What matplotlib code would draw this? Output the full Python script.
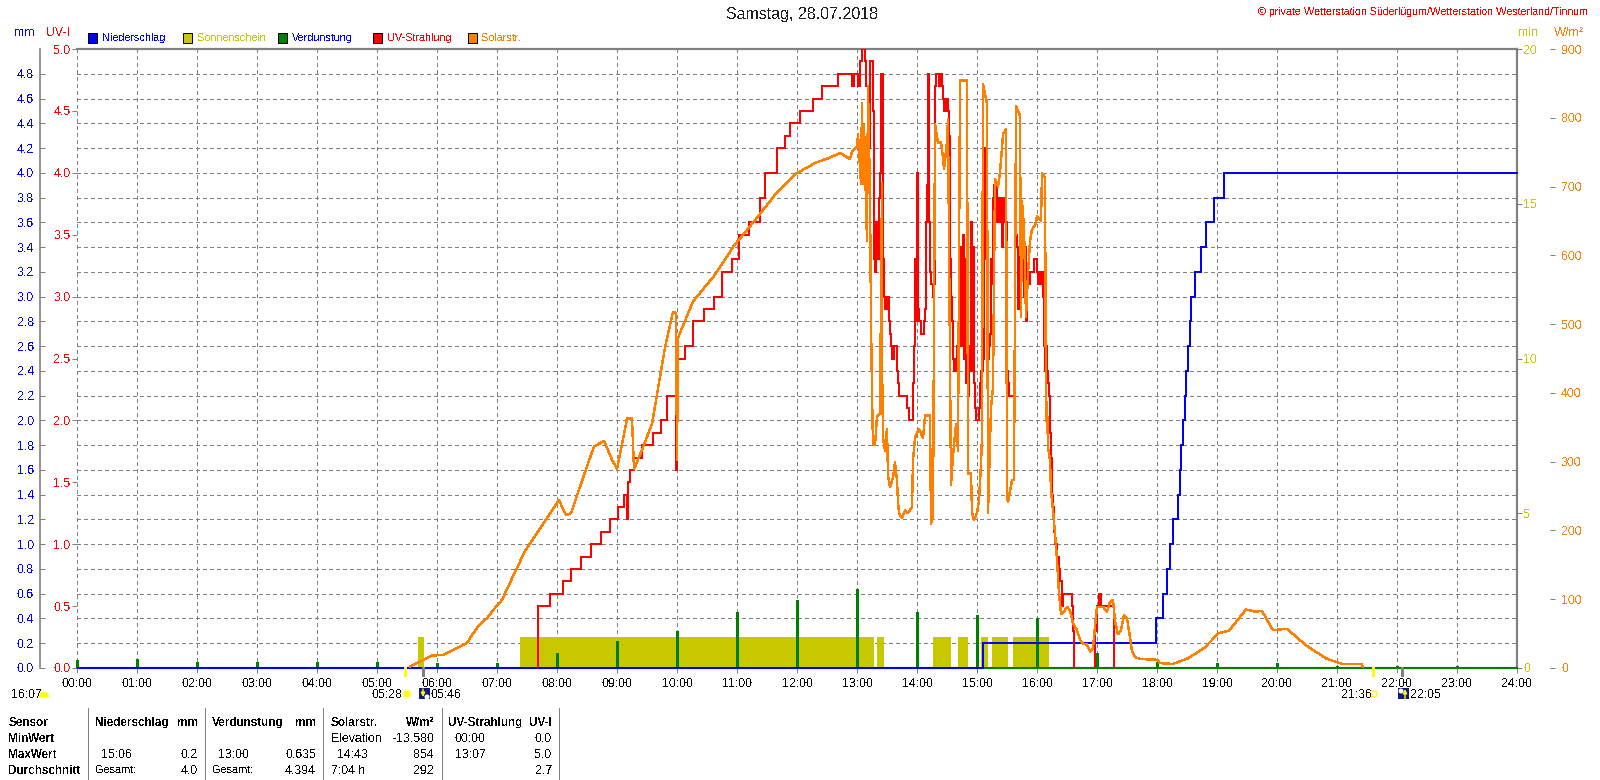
import matplotlib
matplotlib.use('Agg')
import matplotlib.pyplot as plt
from matplotlib.patches import Circle, Rectangle, Wedge

plt.rcParams['font.family'] = ['Liberation Sans', 'DejaVu Sans']
plt.rcParams['font.size'] = 8.8
plt.rcParams['text.antialiased'] = False
plt.rcParams['text.hinting'] = 'native'

GRAY = '#808080'
BLUE = '#0000FF'
RED = '#FF0000'
GREEN = '#008000'
YELLOW = '#C8C800'
ORANGE = '#FF8000'

# Niederschlag, cumulated mm (minutes of the day)
rain_t = [0, 906, 1079, 1086, 1090, 1093, 1096, 1101, 1103, 1104, 1106, 1108, 1109, 1111,
          1113, 1114, 1118, 1124, 1129, 1137, 1147, 1440]
rain_v = [0.0, 0.2, 0.4, 0.6, 0.8, 1.0, 1.2, 1.4, 1.6, 1.8, 2.0, 2.2, 2.4, 2.6,
          2.8, 3.0, 3.2, 3.4, 3.6, 3.8, 4.0, 4.0]

# Verdunstung, one bar per hour
evap_t = [0, 60, 120, 180, 240, 300, 360, 420, 480, 540, 600, 660, 720, 780, 840, 900, 960,
          1020, 1080, 1140, 1200, 1260, 1320, 1380]
evap_v = [0.065, 0.07, 0.05, 0.05, 0.05, 0.05, 0.04, 0.04, 0.125, 0.22, 0.30, 0.45, 0.55, 0.635,
          0.45, 0.43, 0.40, 0.12, 0.05, 0.04, 0.04, 0.02, 0.02, 0.02]

# Sonnenschein blocks
sun_start = [341, 443, 800, 856, 881, 904, 915, 936]
sun_end = [347, 797, 807, 874, 891, 911, 931, 972]
sun_min = [1.0, 1.0, 1.0, 1.0, 1.0, 1.0, 1.0, 1.0]

# UV-Strahlung
uv_t = [461, 461, 473, 486, 494, 504, 514, 524, 533, 541, 547, 550, 551, 553, 557, 565, 576, 584,
        590, 598, 599, 600, 601, 608, 616, 627, 637, 645, 655, 662, 672, 683, 688, 700, 708, 713,
        723, 736, 745, 761, 775, 777, 781, 783, 785, 788, 789, 791, 793, 796, 797, 798, 799, 801,
        802, 803, 804, 806, 807, 808, 810, 812, 813, 814, 815, 817, 820, 821, 822, 830, 832, 836,
        837, 838, 839, 840, 841, 842, 844, 847, 848, 849, 850, 851, 852, 853, 854, 856, 857, 858,
        859, 862, 864, 865, 866, 867, 869, 871, 872, 873, 874, 875, 876, 877, 879, 880, 884, 885,
        886, 887, 888, 889, 890, 891, 892, 893, 894, 895, 896, 897, 898, 899, 902, 903, 904, 906,
        907, 908, 909, 910, 911, 912, 913, 914, 915, 916, 917, 919, 920, 921, 922, 923, 925, 926,
        927, 929, 930, 931, 932, 938, 940, 941, 942, 943, 944, 946, 947, 948, 949, 950, 953, 957,
        960, 961, 962, 964, 965, 966, 967, 968, 969, 970, 971, 972, 973, 974, 975, 976, 977, 978,
        980, 982, 983, 985, 986, 995, 996, 997]
uv_v = [0.0, 0.5, 0.6, 0.7, 0.8, 0.9, 1.0, 1.1, 1.2, 1.3, 1.4, 1.2, 1.5, 1.6, 1.7, 1.8, 1.9, 2.0,
        2.2, 2.2, 1.6, 2.4, 2.5, 2.6, 2.8, 2.9, 3.0, 3.2, 3.3, 3.5, 3.6, 3.8, 4.0, 4.2, 4.3, 4.4,
        4.5, 4.6, 4.7, 4.8, 4.7, 4.8, 4.7, 4.9, 5.0, 4.9, 4.7, 4.2, 4.9, 4.5, 3.3, 3.2, 3.6, 3.3,
        3.8, 4.0, 4.8, 3.3, 3.0, 2.9, 3.0, 2.8, 2.7, 2.6, 2.5, 2.6, 2.4, 2.3, 2.2, 2.1, 2.0, 2.3,
        2.6, 3.3, 2.8, 4.0, 2.9, 2.8, 2.7, 2.8, 2.9, 3.6, 3.9, 4.8, 3.6, 3.2, 3.1, 3.0, 3.1, 4.7,
        4.8, 4.7, 4.8, 4.7, 4.6, 4.5, 4.6, 4.5, 4.3, 3.3, 3.0, 2.8, 2.5, 2.4, 2.5, 2.6, 3.4, 2.6,
        3.5, 2.5, 3.3, 2.3, 3.2, 2.2, 2.6, 2.4, 3.6, 2.4, 3.4, 2.3, 2.1, 2.0, 2.1, 2.3, 2.4, 2.5,
        3.3, 4.2, 4.1, 3.1, 2.5, 2.6, 2.7, 3.3, 3.1, 3.8, 3.9, 3.9, 3.6, 3.8, 3.6, 3.8, 3.4, 3.8,
        3.6, 3.6, 2.4, 2.3, 2.2, 3.5, 3.4, 2.9, 3.4, 2.9, 3.5, 3.5, 3.0, 3.4, 2.8, 3.1, 3.2, 3.3,
        3.2, 3.1, 3.2, 3.1, 3.2, 3.0, 2.6, 2.4, 2.6, 2.4, 2.3, 2.2, 1.9, 1.7, 1.4, 1.3, 1.1, 1.0,
        0.9, 0.8, 0.7, 0.5, 0.6, 0.5, 0.3, 0.0]
uv2_t = [1018, 1018, 1020, 1022, 1024, 1037, 1037]
uv2_v = [0.0, 0.3, 0.5, 0.6, 0.5, 0.5, 0.0]

# Solarstrahlung
sol_t = [333, 341, 348, 355, 366, 373, 381, 390, 395, 401, 411, 416, 425, 431, 448, 468, 482, 489,
         494, 509, 517, 527, 535, 540, 547, 550, 555, 557, 565, 575, 581, 588, 596, 599, 600, 601,
         616, 637, 657, 678, 698, 718, 739, 753, 763, 773, 775, 780, 781, 784, 785, 786, 787, 790,
         791, 793, 794, 795, 796, 798, 800, 803, 805, 805, 806, 808, 810, 811, 813, 816, 818, 820,
         821, 822, 825, 828, 831, 835, 836, 838, 842, 846, 848, 853, 854, 856, 858, 861, 864, 866,
         867, 870, 871, 874, 876, 879, 881, 883, 890, 891, 894, 895, 897, 900, 902, 904, 905, 906,
         910, 911, 914, 916, 918, 921, 923, 926, 929, 930, 931, 935, 937, 939, 943, 944, 945, 947,
         949, 951, 953, 955, 958, 960, 964, 965, 968, 969, 970, 971, 973, 974, 976, 978, 980, 982,
         984, 986, 990, 993, 996, 1000, 1003, 1006, 1010, 1013, 1016, 1018, 1020, 1026, 1030, 1033,
         1036, 1038, 1041, 1044, 1047, 1050, 1053, 1055, 1058, 1063, 1080, 1083, 1096, 1111, 1127,
         1142, 1152, 1169, 1178, 1185, 1196, 1210, 1229, 1249, 1265, 1285, 1286]
sol_v = [2, 8, 13, 18, 19, 24, 30, 36, 48, 60, 74, 84, 99, 118, 170, 214, 244, 222,
         225, 289, 322, 330, 303, 289, 340, 363, 363, 289, 317, 355, 406, 466, 518, 516, 303, 480,
         533, 570, 614, 651, 688, 718, 735, 742, 749, 740, 751, 758, 776, 704, 822, 704, 790,
         621, 846, 686, 505, 399, 324, 324, 365, 370, 705, 447, 335, 316, 348, 280, 263, 277, 299, 273,
         241, 225, 218, 229, 225, 234, 302, 335, 348, 334, 367, 367, 210, 219, 791, 763, 765, 742,
         725, 766, 798, 266, 309, 355, 316, 854, 854, 283, 283, 226, 215, 225, 244, 297, 338, 849,
         820, 225, 379, 408, 711, 700, 720, 776, 784, 251, 241, 273, 273, 817, 803, 510, 679, 640,
         510, 573, 621, 638, 643, 657, 650, 720, 713, 360, 386, 321, 302, 258, 229, 196, 157, 108,
         79, 80, 89, 84, 65, 55, 41, 35, 34, 24, 29, 60, 89, 89, 82, 96,
         99, 68, 49, 55, 77, 72, 45, 24, 16, 13, 12, 7, 6, 14, 29,
         51, 54, 85, 82, 83, 55, 57, 33, 14, 6, 6, 0]

hour_ticks = list(range(0, 1441, 60))
hour_labels = ['%02d:00' % h for h in range(25)]
mm_ticks = [i / 5 for i in range(25)]
uv_ticks = [i / 2 for i in range(11)]
min_ticks = [0, 5, 10, 15, 20]
wm_ticks = list(range(0, 901, 100))

legend_names = ['Niederschlag', 'Sonnenschein', 'Verdunstung', 'UV-Strahlung', 'Solarstr.']
legend_text_col = [BLUE, YELLOW, BLUE, RED, ORANGE]
legend_box_col = [BLUE, YELLOW, GREEN, RED, ORANGE]

W, H = 1600, 780
fig = plt.figure(figsize=(16, 7.8), dpi=100)
rect = [77 / W, (H - 668) / H, 1440 / W, 619 / H]

# base axes holds the grid and the mm scale
ax = fig.add_axes(rect, zorder=1)
ax_sun = fig.add_axes(rect, zorder=2, frameon=False)
ax_rain = fig.add_axes(rect, zorder=3, frameon=False)
ax_uv = fig.add_axes(rect, zorder=4, frameon=False)
ax_sol = fig.add_axes(rect, zorder=5, frameon=False)

for a in [ax, ax_sun, ax_rain, ax_uv, ax_sol]:
    a.set_xlim(0, 1440)
    a.set_xticks([])
    for s in a.spines.values():
        s.set_visible(False)
    a.set_yticks([])

ax.set_ylim(0, 5)
ax_rain.set_ylim(0, 5)
ax_uv.set_ylim(0, 5)
ax_sun.set_ylim(0, 20)
ax_sol.set_ylim(0, 900)

# frame and grid
for side in ['left', 'right', 'top', 'bottom']:
    ax.spines[side].set_visible(True)
    ax.spines[side].set_color(GRAY)
    ax.spines[side].set_linewidth(1.6)
ax.set_xticks(hour_ticks)
ax.set_xticklabels(hour_labels, color='black')
ax.tick_params(axis='x', length=3.6, width=0.72, color=GRAY, pad=3.4)
ax.grid(True, color=GRAY, linestyle=(0, (3.2, 3.2)), linewidth=0.72, antialiased=False)
ax.set_axisbelow(True)

# mm scale, own spine left of the frame
ax_sun.spines['left'].set_visible(True)
ax_sun.spines['left'].set_color(GRAY)
ax_sun.spines['left'].set_linewidth(1.6)
ax.set_yticks(mm_ticks)
ax.spines['left'].set_position(('outward', 26.6))
ax.spines['left'].set_linewidth(1.2)
ax.tick_params(axis='y', direction='in', length=3.6, width=0.72, color=GRAY,
               labelcolor=BLUE, pad=4.3)
ax.set_yticklabels(['%.1f' % v for v in mm_ticks])

# UV scale on the frame
ax_uv.set_yticks(uv_ticks)
ax_uv.set_yticklabels(['%.1f' % v for v in uv_ticks])
ax_uv.tick_params(axis='y', direction='out', length=3.6, width=0.72, color=GRAY,
                  labelcolor=RED, pad=1)

# min scale on the frame, W/m2 on its own spine
ax_sun.yaxis.tick_right()
ax_sun.set_yticks(min_ticks)
ax_sun.tick_params(axis='y', direction='out', length=3.6, width=0.72, color=GRAY,
                   labelcolor=YELLOW, pad=1)
ax_sol.yaxis.tick_right()
ax_sol.set_yticks(wm_ticks)
ax_sol.spines['right'].set_visible(True)
ax_sol.spines['right'].set_position(('outward', 27.4))
ax_sol.spines['right'].set_color(GRAY)
ax_sol.spines['right'].set_linewidth(1.2)
ax_sol.tick_params(axis='y', direction='in', length=3.6, width=0.72, color=GRAY,
                   labelcolor=ORANGE, pad=4.3)

# marks
ax_sun.bar(sun_start, sun_min, width=[e - s for s, e in zip(sun_start, sun_end)], align='edge',
           color=YELLOW, linewidth=0, antialiased=False)
ax_rain.axhline(0, color=GREEN, linewidth=1.44, clip_on=False, antialiased=False)
ax_rain.plot(rain_t, rain_v, color=BLUE, linewidth=1.44, drawstyle='steps-post',
             clip_on=False, antialiased=False)
ax_rain.bar(evap_t, evap_v, width=3, color=GREEN, linewidth=0, clip_on=False, antialiased=False)
ax_uv.plot(uv_t, uv_v, color=RED, linewidth=1.44, drawstyle='steps-post', antialiased=False)
ax_uv.plot(uv2_t, uv2_v, color=RED, linewidth=1.44, drawstyle='steps-post', antialiased=False)
ax_sol.plot(sol_t, sol_v, color=ORANGE, linewidth=1.0, antialiased=False)

# overlay in pixel coordinates for the texts around the chart
ov = fig.add_axes([0, 0, 1, 1], zorder=10, frameon=False)
ov.set_xlim(0, W)
ov.set_ylim(H, 0)
ov.axis('off')


def txt(x, y, s, color='black', ha='left', **kw):
    ov.text(x, y, s, color=color, ha=ha, va='center', **kw)


txt(802, 15, 'Samstag, 28.07.2018', ha='center', fontsize=11.5, color='#202020')
txt(1588, 12, '© private Wetterstation Süderlügum/Wetterstation Westerland/Tinnum', color=RED, ha='right', fontsize=7.7)
txt(14, 33, 'mm', BLUE)
txt(46, 33, 'UV-I', RED)
txt(1518, 33, 'min', YELLOW)
txt(1554, 33, 'W/m²', ORANGE)

box_x = [88, 183, 278, 373, 468]
for name, tc, bc, bx in zip(legend_names, legend_text_col, legend_box_col, box_x):
    ov.add_patch(Rectangle((bx, 33), 9, 10, facecolor=bc, edgecolor='black', linewidth=0.7))
    txt(bx + 14, 38, name, tc, fontsize=7.8)

# sunrise / moonrise markers below the axis
for mx, c in [(77 + 328, '#FFFF00'), (77 + 1296, '#FFFF00'), (77 + 346, GRAY), (77 + 1325, GRAY)]:
    ov.add_patch(Rectangle((mx - 1, 667), 2.5, 10, facecolor=c, edgecolor='none'))

txt(11, 694, '16:07')
ov.add_patch(Wedge((44, 697), 4.5, 180, 360, facecolor='#FFFF00', edgecolor='#FFFF00'))
txt(372, 694, '05:28')
ov.add_patch(Circle((407, 694), 4, facecolor='#FFFF00', edgecolor='#FFFFA0', linewidth=1.2))
ov.add_patch(Rectangle((419, 688), 11, 11, facecolor='#101880', edgecolor='none'))
ov.add_patch(Circle((427, 697), 2.5, facecolor='white', edgecolor='none'))
ov.annotate('', xy=(423, 697), xytext=(423, 689), arrowprops=dict(arrowstyle='-|>', color='#FFFF00', lw=1, mutation_scale=6, shrinkA=0, shrinkB=0))
txt(431, 694, '05:46')
txt(1341, 694, '21:36')
ov.add_patch(Rectangle((1371, 691), 5, 5, facecolor='white', edgecolor='#FFFF00', linewidth=1))
ov.add_patch(Rectangle((1398, 688), 11, 11, facecolor='#101880', edgecolor='none'))
ov.add_patch(Circle((1401, 691), 2.5, facecolor='white', edgecolor='none'))
ov.annotate('', xy=(1405, 689), xytext=(1405, 699), arrowprops=dict(arrowstyle='-|>', color='#FFFF00', lw=1, mutation_scale=6, shrinkA=0, shrinkB=0))
txt(1410, 694, '22:05')

# table below the chart
rows_y = [722, 738, 754, 770]
for sx in [88, 205, 323, 442, 559]:
    ov.plot([sx, sx], [708, 780], color=GRAY, linewidth=0.72, antialiased=False, clip_on=False)
for y, s in zip(rows_y, ['Sensor', 'MinWert', 'MaxWert', 'Durchschnitt']):
    txt(8.5, y, s, fontweight='bold', fontsize=8.5)
for x, s in [(95, 'Niederschlag'), (212, 'Verdunstung'), (331, 'Solarstr.'), (448, 'UV-Strahlung')]:
    txt(x, rows_y[0], s, fontweight='bold', fontsize=8.5)
for x, s in [(198, 'mm'), (316, 'mm'), (434, 'W/m²'), (552, 'UV-I')]:
    txt(x, rows_y[0], s, ha='right', fontweight='bold', fontsize=8.5)

txt(331, rows_y[1], 'Elevation')
txt(434, rows_y[1], '-13.580', ha='right')
txt(455, rows_y[1], '00:00')
txt(552, rows_y[1], '0.0', ha='right')

txt(101, rows_y[2], '15:06')
txt(198, rows_y[2], '0.2', ha='right')
txt(218.5, rows_y[2], '13:00')
txt(316, rows_y[2], '0.635', ha='right')
txt(337, rows_y[2], '14:43')
txt(434, rows_y[2], '854', ha='right')
txt(455, rows_y[2], '13:07')
txt(552, rows_y[2], '5.0', ha='right')

txt(95, rows_y[3], 'Gesamt:', fontsize=7.8)
txt(198, rows_y[3], '4.0', ha='right')
txt(212, rows_y[3], 'Gesamt:', fontsize=7.8)
txt(316, rows_y[3], '4.394', ha='right')
txt(331, rows_y[3], '7:04 h')
txt(434, rows_y[3], '292', ha='right')
txt(552, rows_y[3], '2.7', ha='right')

fig.savefig('out.png', dpi=100, facecolor='white')
